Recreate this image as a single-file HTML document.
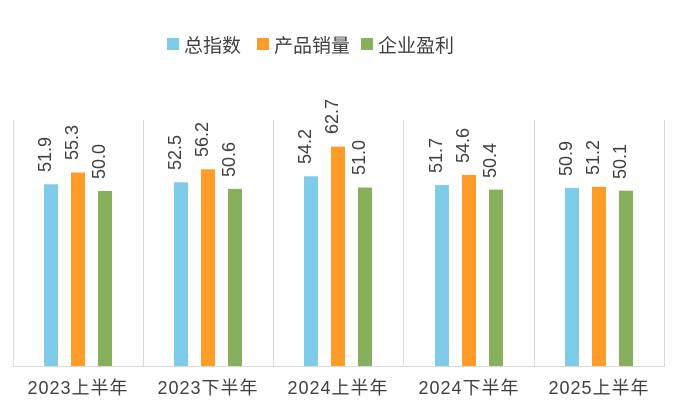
<!DOCTYPE html>
<html><head><meta charset="utf-8"><style>
body{margin:0;background:#fff}
svg text{font-family:"Liberation Sans","Noto Sans CJK SC",sans-serif}
</style></head><body>
<svg width="675" height="413" viewBox="0 0 675 413" xmlns="http://www.w3.org/2000/svg">
<g font-size="19" fill="#404040">
<rect x="167" y="38" width="12" height="12" fill="#7ecbea"/><text x="184" y="52">总指数</text>
<rect x="257" y="38" width="12" height="12" fill="#ff9c27"/><text x="274" y="52">产品销量</text>
<rect x="361" y="38" width="12" height="12" fill="#86b05b"/><text x="378" y="52">企业盈利</text>
</g>
<g stroke="#d9d9d9" stroke-width="1">
<line x1="13.5" y1="120" x2="13.5" y2="366"/>
<line x1="143.5" y1="120" x2="143.5" y2="366"/>
<line x1="273.5" y1="120" x2="273.5" y2="366"/>
<line x1="403.5" y1="120" x2="403.5" y2="366"/>
<line x1="534.5" y1="120" x2="534.5" y2="366"/>
<line x1="664.5" y1="120" x2="664.5" y2="366"/>
<line x1="13" y1="366.5" x2="665" y2="366.5"/>
</g>
<g font-size="18" fill="#404040" text-anchor="middle" letter-spacing="1">
<text x="78" y="394">2023上半年</text>
<text x="208" y="394">2023下半年</text>
<text x="338" y="394">2024上半年</text>
<text x="469" y="394">2024下半年</text>
<text x="599" y="394">2025上半年</text>
</g>
<g>
<rect x="44" y="184.3" width="14" height="181.7" fill="#7ecbea"/>
<rect x="71" y="172.5" width="14" height="193.5" fill="#ff9c27"/>
<rect x="98" y="191" width="14" height="175" fill="#86b05b"/>
<rect x="174" y="182.3" width="14" height="183.7" fill="#7ecbea"/>
<rect x="201" y="169.3" width="14" height="196.7" fill="#ff9c27"/>
<rect x="228" y="188.9" width="14" height="177.1" fill="#86b05b"/>
<rect x="304" y="176.3" width="14" height="189.7" fill="#7ecbea"/>
<rect x="331" y="146.6" width="14" height="219.4" fill="#ff9c27"/>
<rect x="358" y="187.5" width="14" height="178.5" fill="#86b05b"/>
<rect x="435" y="185" width="14" height="181" fill="#7ecbea"/>
<rect x="462" y="174.9" width="14" height="191.1" fill="#ff9c27"/>
<rect x="489" y="189.6" width="14" height="176.4" fill="#86b05b"/>
<rect x="565" y="187.9" width="14" height="178.1" fill="#7ecbea"/>
<rect x="592" y="186.8" width="14" height="179.2" fill="#ff9c27"/>
<rect x="619" y="190.7" width="14" height="175.3" fill="#86b05b"/>
</g>
<g font-size="18" fill="#404040">
<text transform="translate(51,172) rotate(-90)">51.9</text>
<text transform="translate(78,160) rotate(-90)">55.3</text>
<text transform="translate(105,179) rotate(-90)">50.0</text>
<text transform="translate(181,170) rotate(-90)">52.5</text>
<text transform="translate(208,157) rotate(-90)">56.2</text>
<text transform="translate(235,177) rotate(-90)">50.6</text>
<text transform="translate(311,164) rotate(-90)">54.2</text>
<text transform="translate(338,134) rotate(-90)">62.7</text>
<text transform="translate(365,175) rotate(-90)">51.0</text>
<text transform="translate(442,173) rotate(-90)">51.7</text>
<text transform="translate(469,163) rotate(-90)">54.6</text>
<text transform="translate(496,178) rotate(-90)">50.4</text>
<text transform="translate(572,176) rotate(-90)">50.9</text>
<text transform="translate(599,175) rotate(-90)">51.2</text>
<text transform="translate(626,179) rotate(-90)">50.1</text>
</g>
</svg>
</body></html>
